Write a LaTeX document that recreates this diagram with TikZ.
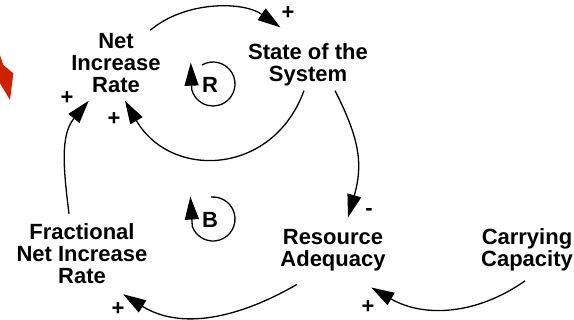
\documentclass[tikz,border=0pt]{standalone}
\usepackage{fontspec}
\setmainfont{Liberation Sans}
\usetikzlibrary{arrows.meta}
\definecolor{cred}{RGB}{204,34,0}
\tikzset{
  cld/.style={x=1pt,y=1pt,line width=1.3pt},
  var/.style={align=center,inner sep=0pt,font=\fontsize{22}{22}\selectfont\bfseries},
  sgn/.style={inner sep=0pt,font=\fontsize{22}{22}\selectfont\bfseries},
  lnk/.style={-{Triangle[length=23pt,width=14pt]}}
}

\begin{document}
\begin{tikzpicture}[cld]
    \useasboundingbox (0,0) rectangle (574,-320);
    \fill[cred] (0,-55) -- (3.3,-65) -- (13.3,-73.3) -- (10,-100) -- (0,-83.3) -- cycle;
    \node[var] (net)   at (116,-63.5) {Net\\Increase\\Rate};
    \node[var] (state) at (308,-65.3) {State of the\\System};
    \node[var] (res)   at (333,-250)  {Resource\\Adequacy};
    \node[var] (cap)   at (527,-250)  {Carrying\\Capacity};
    \node[var] (frac)  at (82,-253.5) {Fractional\\Net Increase\\Rate};
    \node[var] (lr) at (210,-85)  {R};
    \node[var] (lb) at (210,-220) {B};
    \draw[lnk] ([shift={(-11,3)}]net.north east) to[out=40,in=145,looseness=0.9] ([shift={(33,16)}]state.north west);
    \draw[lnk] ([shift={(-4,-3.4)}]state.south) to[out=250,in=300,looseness=1.3] ([shift={(9,-7)}]net.south);
    \draw[lnk] ([shift={(27,-3.4)}]state.south) to[out=-63,in=74,looseness=1.1] ([shift={(15,11)}]res.north);
    \draw[lnk] ([shift={(-13,9)}]frac.north) to[out=97,in=230] ([shift={(18,-7)}]net.south west);
    \draw[lnk] ([shift={(17,-13)}]res.south west) to[out=210,in=-32] ([shift={(-25,-10)}]frac.south east);
    \draw[lnk] ([shift={(-2,-9)}]cap.south) to[out=215,in=-30] ([shift={(-15,-16)}]res.south east);
    \draw[lnk] ([shift={(3,1)}]lr.center) ++(120:22) arc[start angle=120,end angle=-165,radius=22] -- ++(-1,27);
    \draw[lnk] ([shift={(3,1)}]lb.center) ++(95:22) arc[start angle=95,end angle=-160,radius=22] -- ++(-2,30);
    \node[sgn] (s1) at (288,-13)  {+};
    \node[sgn] (s2) at (114,-119) {+};
    \node[sgn] (s3) at (67,-98)   {+};
    \node[sgn] (s4) at (369,-212) {-};
    \node[sgn] (s5) at (118,-309) {+};
    \node[sgn] (s6) at (368,-307) {+};
\end{tikzpicture}
\end{document}
